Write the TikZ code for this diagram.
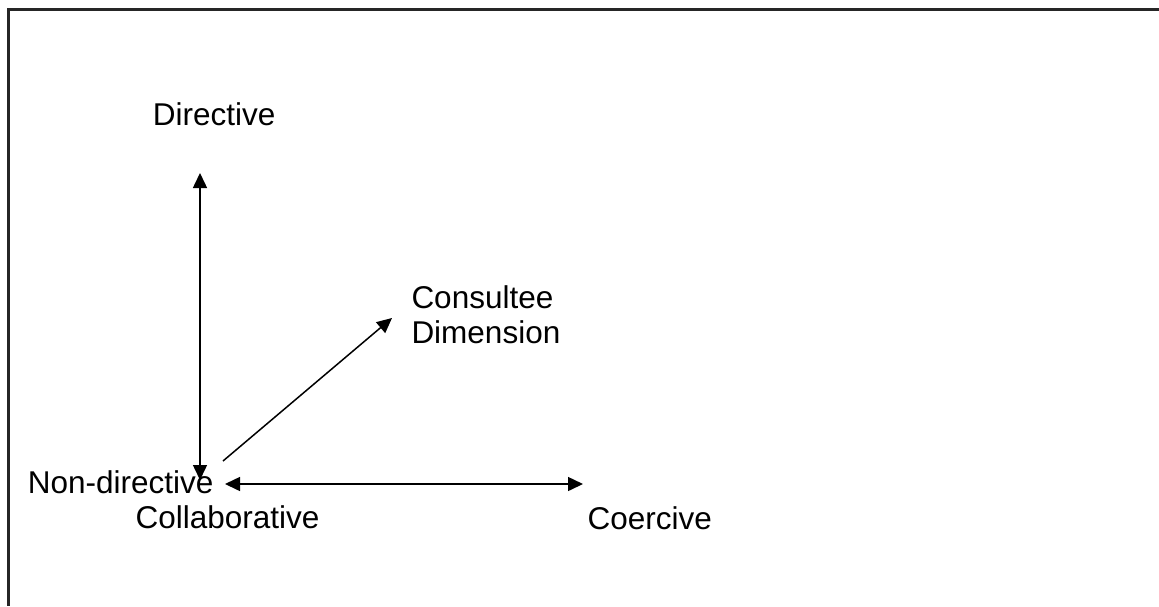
\documentclass[tikz,border=0pt]{standalone}
\usepackage{fontspec}
\setmainfont{Liberation Sans}
\usetikzlibrary{arrows.meta}
\begin{document}
\begin{tikzpicture}[x=1pt,y=-1pt,
  >={Triangle[length=15pt,width=14pt]},
  lbl/.style={inner sep=0pt, anchor=base west, font=\fontsize{31.5}{35}\selectfont},
  frame/.style={line width=2.2pt, draw=black!85},
  axis/.style={line width=1.5pt, draw=black}]
\useasboundingbox (0,0) rectangle (1159,606);
% partial frame: top and left edges
\coordinate (ftl) at (8.5,9.5);
\coordinate (ftr) at (1159,9.5);
\coordinate (fbl) at (8.5,606);
\draw[frame] (ftr) -- (ftl) -- (fbl);

% labels
\node[lbl] (dir) at (152.6,125) {Directive};
\node[lbl] (nondir) at (27.6,493) {Non-directive};
\node[lbl] (collab) at (135.5,528) {Collaborative};
\node[lbl] (coer) at (587.5,529) {Coercive};
\node[lbl, align=left] (cons) at (411.3,343) {Consultee\\Dimension};

% arrow end points
\coordinate (vtop) at (200,173);
\coordinate (vbot) at (200,480);
\coordinate (hleft) at (225,484);
\coordinate (hright) at (583,484);
\coordinate (dstart) at (223,461);
\coordinate (dend) at (392,318);

\draw[axis, <->] (vbot) -- (vtop);
\draw[axis, <->] (hleft) -- (hright);
\draw[axis, ->] (dstart) -- (dend);
\end{tikzpicture}
\end{document}
